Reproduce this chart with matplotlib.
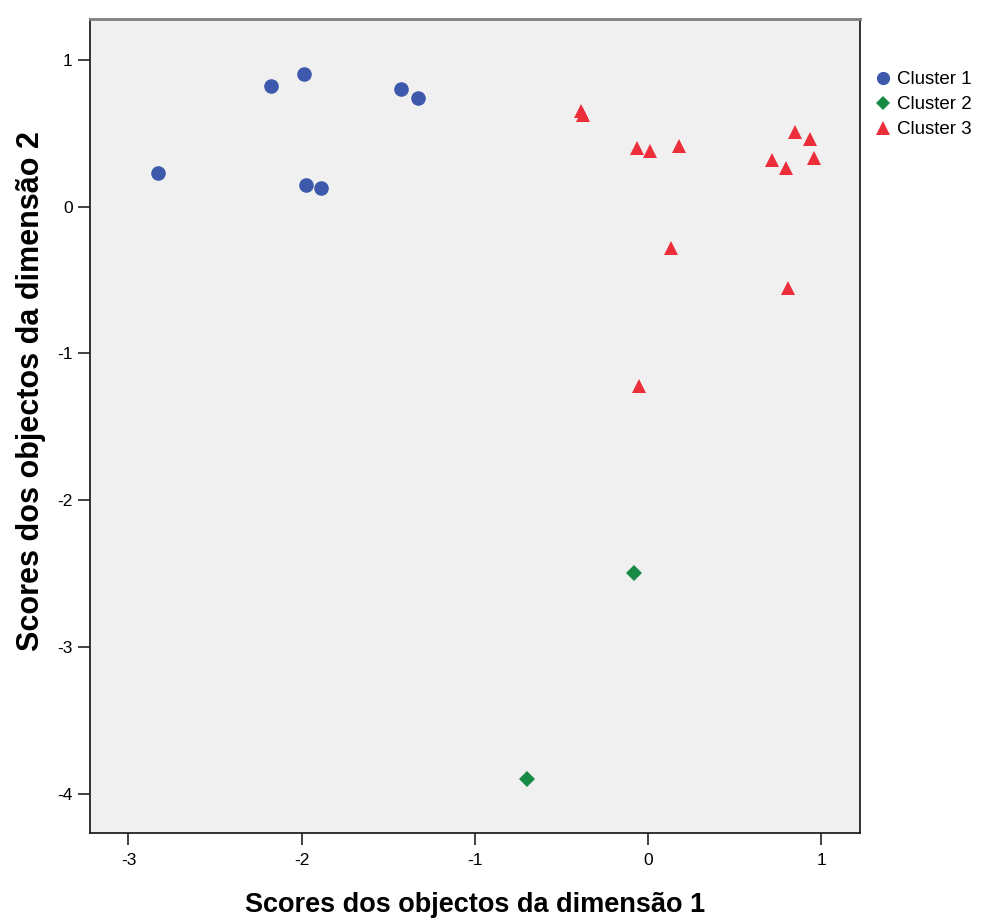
import matplotlib
matplotlib.use("Agg")
import matplotlib.pyplot as plt
from matplotlib.lines import Line2D

# --- data -------------------------------------------------------------------
c1_x = [-2.827, -2.177, -1.984, -1.976, -1.890, -1.426, -1.326]
c1_y = [0.230, 0.821, 0.907, 0.148, 0.130, 0.802, 0.741]

c2_x = [-0.083, -0.699]
c2_y = [-2.499, -3.901]

c3_x = [-0.389, -0.377, -0.065, 0.012, 0.177, 0.850, 0.935, 0.958, 0.718,
        0.798, 0.133, 0.808, -0.054]
c3_y = [0.654, 0.625, 0.398, 0.382, 0.416, 0.511, 0.459, 0.334, 0.318,
        0.262, -0.284, -0.552, -1.222]

labels = ["Cluster 1", "Cluster 2", "Cluster 3"]
xticks = [-3, -2, -1, 0, 1]
yticks = [1, 0, -1, -2, -3, -4]

# --- style -------------------------------------------------------------------
BLUE, GREEN, RED = "#3D59AB", "#178A45", "#EC2D3A"
FONT = ["Liberation Sans", "DejaVu Sans"]

fig = plt.figure(figsize=(9.81, 9.18), dpi=100)
ax = fig.add_axes([90 / 981, 1 - 833 / 918, 770 / 981, 814 / 918])
ax.set_facecolor("#F0F0F0")

ax.plot(c1_x, c1_y, "o", color=BLUE, ms=10.5, mew=0, zorder=3)
ax.plot(c2_x, c2_y, "D", color=GREEN, ms=8.5, mew=0, zorder=3)
ax.plot(c3_x, c3_y, "^", color=RED, ms=10, mew=0, zorder=3)

ax.set_xlim(-3.222, 1.224)
ax.set_ylim(-4.269, 1.279)
ax.set_xticks(xticks)
ax.set_yticks(yticks)
ax.set_xticklabels([str(t) for t in xticks], family=FONT, fontsize=12.5)
ax.set_yticklabels([str(t) for t in yticks], family=FONT, fontsize=12.5)
ax.tick_params(direction="out", length=8.5, width=1.3, color="#333333", pad=4)
ax.tick_params(axis="x", pad=6)

for side in ["left", "bottom", "right"]:
    ax.spines[side].set_color("#222222")
    ax.spines[side].set_linewidth(1.3)
ax.spines["top"].set_color("#808080")
ax.spines["top"].set_linewidth(2)

ax.set_xlabel("Scores dos objectos da dimensão 1", family=FONT,
              fontweight="bold", fontsize=19.5, va="center")
ax.xaxis.set_label_coords(0.5, -0.089)
ax.set_ylabel("Scores dos objectos da dimensão 2", family=FONT,
              fontweight="bold", fontsize=22, va="center")
ax.yaxis.set_label_coords(-0.076, 0.543)

handles = [
    Line2D([], [], marker="o", ls="none", color=BLUE, ms=9.5, mew=0),
    Line2D([], [], marker="D", ls="none", color=GREEN, ms=7.5, mew=0),
    Line2D([], [], marker="^", ls="none", color=RED, ms=9.5, mew=0),
]
fig.legend(handles, labels, loc="upper left", bbox_to_anchor=(874 / 981, 1 - 71 / 918),
           frameon=False, handletextpad=0.25, handlelength=1.0, labelspacing=0.42,
           borderaxespad=0, borderpad=0, prop={"family": FONT, "size": 13.5})

fig.savefig("out.png", dpi=100)
